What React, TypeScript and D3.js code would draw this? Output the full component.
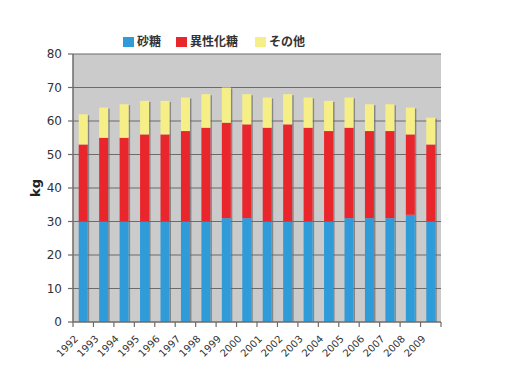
import { useEffect, useRef } from 'react';
import * as d3 from 'd3';

const years = ['1992', '1993', '1994', '1995', '1996', '1997', '1998', '1999', '2000', '2001', '2002', '2003', '2004', '2005', '2006', '2007', '2008', '2009'];
const sugar = [30, 30, 30, 30, 30, 30, 30, 31, 31, 30, 30, 30, 30, 31, 31, 31, 32, 30];
const hfcs = [23, 25, 25, 26, 26, 27, 28, 28.5, 28, 28, 29, 28, 27, 27, 26, 26, 24, 23];
const other = [9, 9, 10, 10, 10, 10, 10, 10.5, 9, 9, 9, 9, 9, 9, 8, 8, 8, 8];
const seriesNames = ['砂糖', '異性化糖', 'その他'];
const seriesColors = ['#2f9bd9', '#e8262c', '#f6ef87'];
const yTicks = [0, 10, 20, 30, 40, 50, 60, 70, 80];

type Row = { year: string; values: number[] };

export default function App() {
  const svgRef = useRef<SVGSVGElement | null>(null);

  useEffect(() => {
    const svgElement = svgRef.current;
    if (!svgElement) {
      return;
    }
    const svg = d3.select(svgElement);
    svg.selectAll('*').remove();

    const width = 519;
    const height = 385;
    const margin = { top: 54, right: 78, bottom: 63, left: 73 };
    const innerWidth = width - margin.left - margin.right;
    const innerHeight = height - margin.top - margin.bottom;
    const font = '"DejaVu Sans", Verdana, sans-serif';

    svg.attr('viewBox', `0 0 ${width} ${height}`);

    const rows: Row[] = years.map((year, i) => ({ year, values: [sugar[i], hfcs[i], other[i]] }));

    const x = d3.scaleBand().domain(years).range([0, innerWidth]).paddingInner(0.56).paddingOuter(0.28);
    const y = d3.scaleLinear().domain([0, 80]).range([innerHeight, 0]);

    const root = svg.append('g').attr('transform', `translate(${margin.left},${margin.top})`);

    root.append('rect').attr('x', 0).attr('y', 0).attr('width', innerWidth).attr('height', innerHeight).attr('fill', '#cbcbcb');

    root
      .selectAll('line.grid')
      .data(yTicks.slice(1))
      .join('line')
      .attr('class', 'grid')
      .attr('x1', 0)
      .attr('x2', innerWidth)
      .attr('y1', (d) => y(d))
      .attr('y2', (d) => y(d))
      .attr('stroke', '#6f6b68')
      .attr('stroke-width', 1.2);

    const step = x.step();
    const groups = root
      .selectAll('g.bar')
      .data(rows)
      .join('g')
      .attr('class', 'bar')
      .attr('transform', (d) => `translate(${x(d.year)},0)`);

    groups.each(function (row) {
      const g = d3.select(this);
      let acc = 0;
      const total = d3.sum(row.values);
      g.append('rect')
        .attr('x', x.bandwidth())
        .attr('width', 1.5)
        .attr('y', y(total) + 1)
        .attr('height', innerHeight - y(total) - 1)
        .attr('fill', '#6a6a6a')
        .attr('opacity', 0.7);
      row.values.forEach((v, i) => {
        g.append('rect')
          .attr('x', 0)
          .attr('width', x.bandwidth())
          .attr('y', y(acc + v))
          .attr('height', y(acc) - y(acc + v))
          .attr('fill', seriesColors[i]);
        acc += v;
      });
    });

    // axes
    root.append('line').attr('x1', 0).attr('x2', 0).attr('y1', 0).attr('y2', innerHeight).attr('stroke', '#6f6b68').attr('stroke-width', 1.5);
    root.append('line').attr('x1', 0).attr('x2', innerWidth).attr('y1', innerHeight).attr('y2', innerHeight).attr('stroke', '#6f6b68').attr('stroke-width', 1.5);

    root
      .selectAll('line.ytick')
      .data(yTicks)
      .join('line')
      .attr('class', 'ytick')
      .attr('x1', -5)
      .attr('x2', 0)
      .attr('y1', (d) => y(d))
      .attr('y2', (d) => y(d))
      .attr('stroke', '#6f6b68')
      .attr('stroke-width', 1.2);

    root
      .selectAll('text.ylabel')
      .data(yTicks)
      .join('text')
      .attr('class', 'ylabel')
      .attr('x', -11)
      .attr('y', (d) => y(d))
      .attr('dy', '0.36em')
      .attr('text-anchor', 'end')
      .attr('font-family', font)
      .attr('font-size', 12)
      .attr('fill', '#333')
      .text((d) => d);

    root
      .selectAll('line.xtick')
      .data(d3.range(years.length + 1))
      .join('line')
      .attr('class', 'xtick')
      .attr('x1', (i) => i * step)
      .attr('x2', (i) => i * step)
      .attr('y1', innerHeight)
      .attr('y2', innerHeight + 5)
      .attr('stroke', '#6f6b68')
      .attr('stroke-width', 1.2);

    root
      .selectAll('text.xlabel')
      .data(years)
      .join('text')
      .attr('class', 'xlabel')
      .attr('transform', (d) => `translate(${(x(d) ?? 0) + x.bandwidth() / 2 - 7},${innerHeight + 15}) rotate(-45)`)
      .attr('text-anchor', 'end')
      .attr('dy', '0.35em')
      .attr('font-family', font)
      .attr('font-size', 10)
      .attr('fill', '#333')
      .text((d) => d);

    root
      .append('text')
      .attr('transform', `translate(-38,${innerHeight / 2}) rotate(-90)`)
      .attr('text-anchor', 'middle')
      .attr('dy', '0.35em')
      .attr('font-family', font)
      .attr('font-size', 13)
      .attr('font-weight', 'bold')
      .attr('fill', '#222')
      .text('kg');

    // legend
    const legendX = [123, 176, 255];
    const legend = svg.append('g').attr('transform', 'translate(0,36)');
    seriesNames.forEach((name, i) => {
      legend.append('rect').attr('x', legendX[i]).attr('y', 1).attr('width', 11).attr('height', 10).attr('fill', seriesColors[i]);
      legend
        .append('text')
        .attr('x', legendX[i] + 14)
        .attr('y', 6)
        .attr('dy', '0.36em')
        .attr('font-family', '"Noto Sans CJK JP", sans-serif')
        .attr('font-size', 12)
        .attr('font-weight', 'bold')
        .attr('fill', '#333')
        .text(name);
    });
  }, []);

  return <svg ref={svgRef} width={519} height={385} style={{ display: 'block', position: 'absolute', left: 0, top: 0 }} />;
}
